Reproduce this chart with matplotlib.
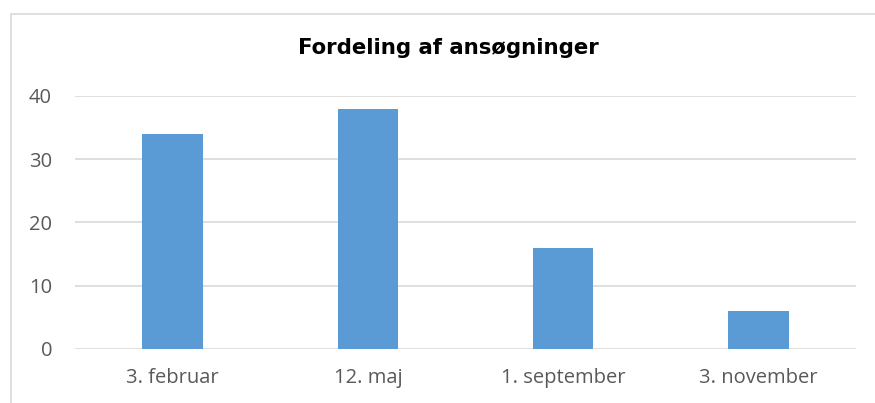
import matplotlib.pyplot as plt
from matplotlib.patches import Rectangle

# Data
categories = ['3. februar', '12. maj', '1. september', '3. november']
values = [34, 38, 16, 6]
y_ticks = [0, 10, 20, 30, 40]

W, H = 875, 403
fig = plt.figure(figsize=(W / 100, H / 100), dpi=100)
plt.rcParams['font.family'] = ['Open Sans', 'DejaVu Sans']

# outer chart border (cut off on right and bottom)
fig.patches.append(Rectangle((11 / W, -0.1), 1.2, 1 - 14 / H + 0.1,
                             transform=fig.transFigure, fill=False,
                             edgecolor='#d9d9d9', linewidth=1.2))

ax = fig.add_axes([75 / W, 1 - 349 / H, (856 - 75) / W, (349 - 96) / H])
x = range(len(categories))
ax.bar(x, values, width=0.31, color='#5B9BD5', zorder=3)

ax.set_xlim(-0.5, len(categories) - 0.5)
ax.set_ylim(0, 40)
ax.set_yticks(y_ticks)
ax.set_xticks(list(x))
ax.set_xticklabels(categories)
ax.tick_params(axis='both', length=0, colors='#595959', labelsize=14.5)
ax.tick_params(axis='x', pad=14)
ax.tick_params(axis='y', pad=16.5)
ax.grid(axis='y', color='#d9d9d9', linewidth=1.2, zorder=0)
for s in ax.spines.values():
    s.set_visible(False)

fig.text(448 / W, 1 - 48 / H, 'Fordeling af ansøgninger', ha='center', va='center',
         fontsize=15.3, fontweight='bold', color='black', family='DejaVu Sans')

fig.savefig('out.png', dpi=100)
